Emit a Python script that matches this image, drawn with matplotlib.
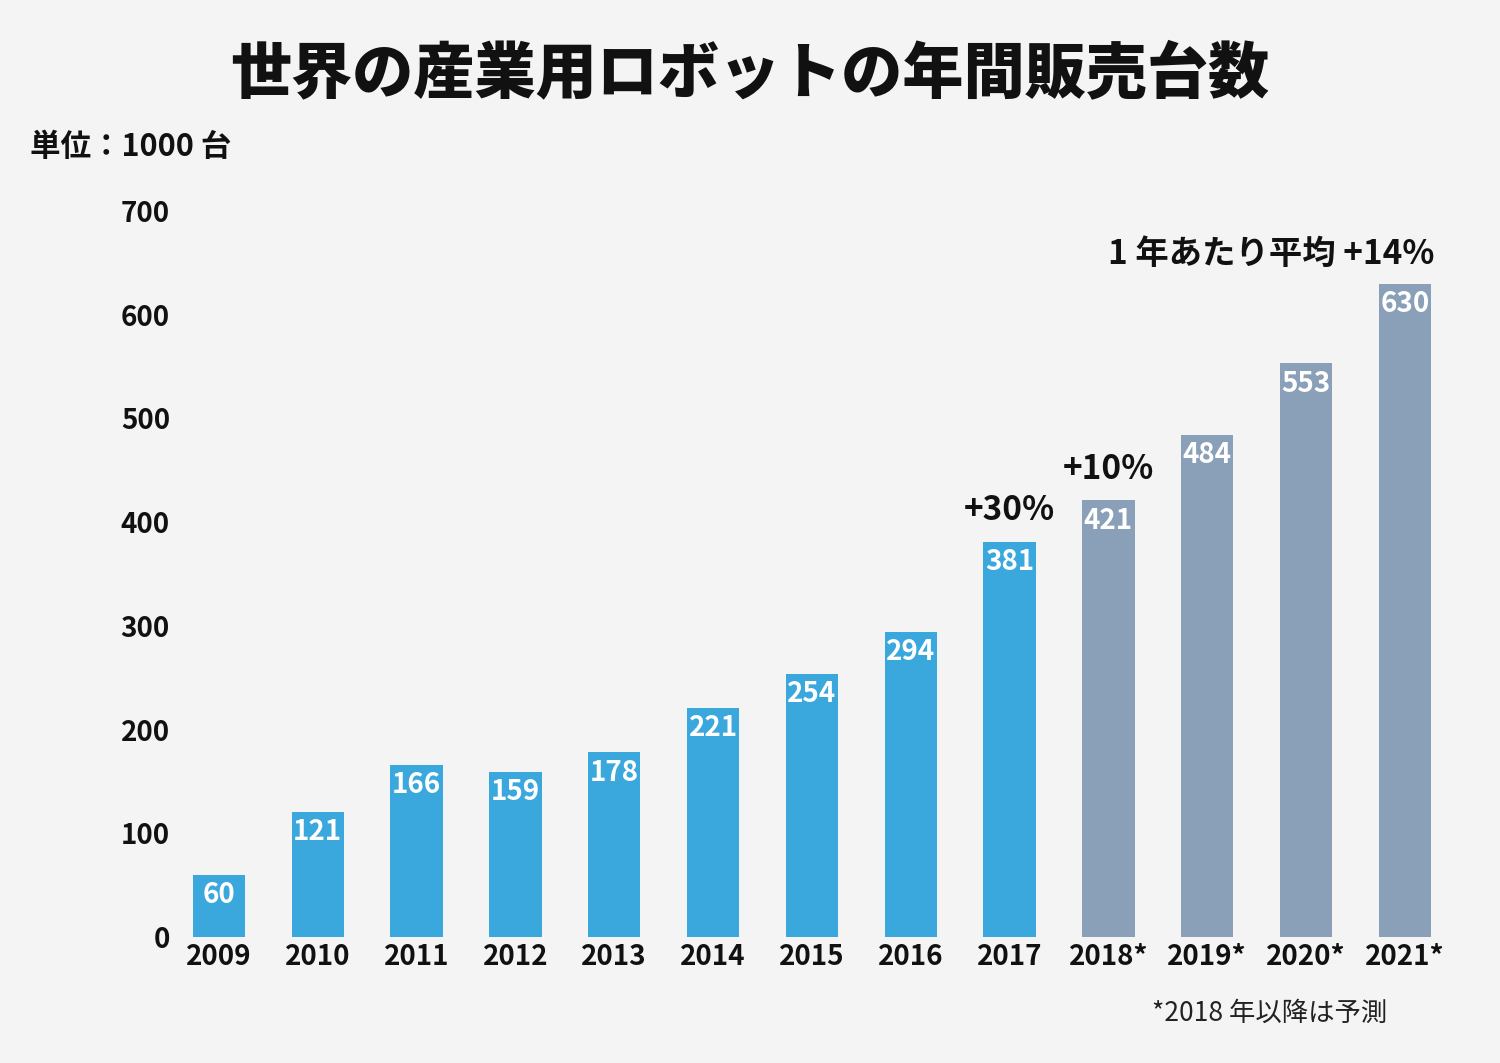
import matplotlib
matplotlib.use("Agg")
import matplotlib.pyplot as plt

plt.rcParams['font.family'] = ['Noto Sans CJK JP', 'DejaVu Sans']

years = ['2009', '2010', '2011', '2012', '2013', '2014', '2015', '2016', '2017',
         '2018*', '2019*', '2020*', '2021*']
units = [60, 121, 166, 159, 178, 221, 254, 294, 381, 421, 484, 553, 630]
forecast_start = 9

blue = '#3aa7dd'
grey = '#8a9fb8'
bg = '#f4f4f4'

fig = plt.figure(figsize=(15, 10.63), dpi=100, facecolor=bg)
ax = fig.add_axes([0.1133, 0.1185, 0.86, 0.683], facecolor=bg)

x = list(range(len(years)))
colors = [blue if i < forecast_start else grey for i in x]
ax.bar(x, units, width=0.53, color=colors)

for i, v in enumerate(units):
    ax.text(i, v - 6, str(v), ha='center', va='top', color='white',
            fontsize=20, fontweight='bold')

ax.set_xlim(-0.496, 12.557)
ax.set_ylim(0, 700)
ax.set_yticks(range(0, 701, 100))
ax.set_xticks(x)
ax.set_xticklabels(years)
ax.tick_params(length=0, labelsize=20, colors='#111111')
for lab in ax.get_xticklabels() + ax.get_yticklabels():
    lab.set_fontweight('bold')
ax.tick_params(axis='x', pad=4)
ax.tick_params(axis='y', pad=0)
for s in ax.spines.values():
    s.set_visible(False)

# growth annotations
ax.text(8, 395, '+30%', ha='center', va='bottom', fontsize=24, fontweight='bold', color='#111111')
ax.text(9, 435, '+10%', ha='center', va='bottom', fontsize=24, fontweight='bold', color='#111111')
ax.text(12.3, 642, '1 年あたり平均 +14%', ha='right', va='bottom', fontsize=24,
        fontweight='bold', color='#111111')

fig.text(0.5, 0.93, '世界の産業用ロボットの年間販売台数', ha='center', va='center',
         fontsize=44, fontweight='black', color='#111111')
fig.text(0.02, 0.862, '単位：1000 台', ha='left', va='center', fontsize=22,
         fontweight='bold', color='#111111')
fig.text(0.925, 0.047, '*2018 年以降は予測', ha='right', va='center', fontsize=19,
         color='#222222')

fig.savefig('out.png', dpi=100, facecolor=bg)
